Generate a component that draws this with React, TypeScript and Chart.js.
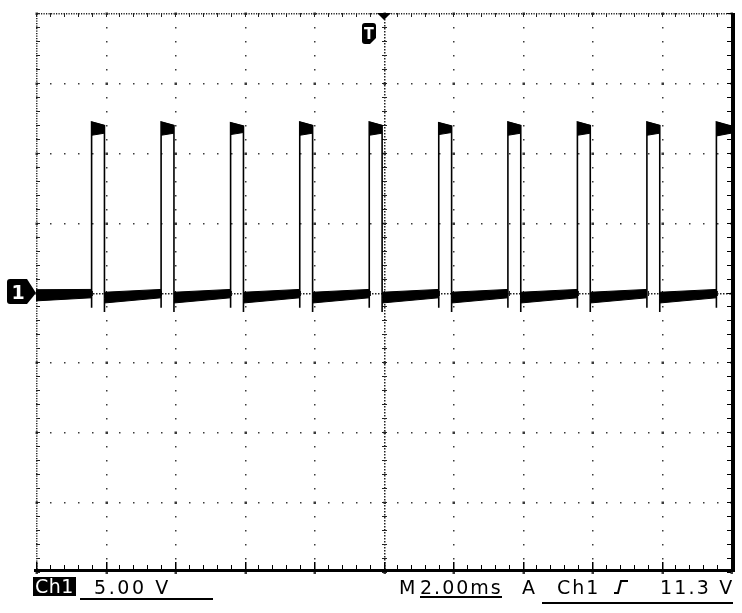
import React, { useEffect, useRef } from "react";
import { Chart, registerables } from "chart.js";

Chart.register(...registerables);

// Scope settings: 2.00 ms/div horizontally (10 div), 5.00 V/div vertically (8 div)
const timeRangeMs = [0, 20];
const voltRange = [-20, 20];
const timeMajorTicks = [0, 2, 4, 6, 8, 10, 12, 14, 16, 18, 20];
const voltMajorTicks = [-20, -15, -10, -5, 0, 5, 10, 15, 20];
const minorPerDiv = 5;
const triggerTimeMs = 10;

// Pulse edges (ms)
const riseTimes = [1.6, 3.6, 5.6, 7.59, 9.59, 11.59, 13.58, 15.58, 17.58, 19.58];
const fallTimes = [1.97, 3.97, 5.97, 7.96, 9.96, 11.96, 13.95, 15.95, 17.95];

// High plateau: top / bottom of the noisy band (V) at start and end of each pulse
const highTopStart = [12.2, 12.2, 12.15, 12.2, 12.2, 12.15, 12.2, 12.2, 12.2, 12.2];
const highTopEnd = [11.95, 11.95, 11.9, 11.95, 11.95, 11.9, 11.95, 11.95, 11.95, 11.9];
const highBotStart = [11.25, 11.25, 11.3, 11.25, 11.25, 11.3, 11.25, 11.25, 11.25, 11.2];
const highBotEnd = [11.4, 11.4, 11.45, 11.4, 11.4, 11.45, 11.4, 11.4, 11.4, 11.4];

// Low level: noisy band (V) for each segment ending at a rising edge
const lowTopStart = [0.2, 0.02, 0.02, 0.02, 0.02, 0.02, 0.02, 0.02, 0.02, 0.02];
const lowBotStart = [-0.6, -0.75, -0.75, -0.75, -0.75, -0.75, -0.75, -0.75, -0.75, -0.75];
const lowTopEnd = [0.22, 0.22, 0.22, 0.22, 0.22, 0.22, 0.22, 0.22, 0.22, 0.22];
const lowBotEnd = [-0.38, -0.38, -0.38, -0.38, -0.38, -0.38, -0.38, -0.38, -0.38, -0.38];

// Ringing spikes below the baseline at each edge (V)
const riseDip = [-1.1, -1.1, -1.1, -1.1, -1.1, -1.1, -1.1, -1.1, -1.1, -1.1];
const fallDip = [-1.4, -1.4, -1.4, -1.4, -1.4, -1.4, -1.4, -1.4, -1.4];

function bandPair(x0: number, x1: number, t0: number, t1: number, b0: number, b1: number) {
  const common = {
    borderColor: "#000",
    borderWidth: 1,
    pointRadius: 0,
    tension: 0,
    backgroundColor: "#000",
  };
  return [
    { ...common, data: [{ x: x0, y: t0 }, { x: x1, y: t1 }], fill: "+1" },
    { ...common, data: [{ x: x0, y: b0 }, { x: x1, y: b1 }], fill: false },
  ];
}

function buildDatasets() {
  const sets: any[] = [];
  riseTimes.forEach((r, i) => {
    const x0 = i === 0 ? timeRangeMs[0] : fallTimes[i - 1];
    sets.push(...bandPair(x0, r, lowTopStart[i], lowTopEnd[i], lowBotStart[i], lowBotEnd[i]));
  });
  riseTimes.forEach((r, i) => {
    const f = i < fallTimes.length ? fallTimes[i] : timeRangeMs[1];
    sets.push(...bandPair(r, f, highTopStart[i], highTopEnd[i], highBotStart[i], highBotEnd[i]));
  });
  const edge: { x: number; y: number }[] = [];
  edge.push({ x: timeRangeMs[0], y: (lowTopStart[0] + lowBotStart[0]) / 2 });
  riseTimes.forEach((r, i) => {
    const f = i < fallTimes.length ? fallTimes[i] : timeRangeMs[1];
    edge.push({ x: r, y: (lowTopEnd[i] + lowBotEnd[i]) / 2 });
    edge.push({ x: r, y: riseDip[i] });
    edge.push({ x: r, y: highTopStart[i] });
    edge.push({ x: f, y: highTopEnd[i] });
    if (i < fallTimes.length) {
      edge.push({ x: f, y: fallDip[i] });
      edge.push({ x: f, y: (lowTopStart[i + 1] + lowBotStart[i + 1]) / 2 });
    }
  });
  sets.push({
    data: edge,
    fill: false,
    borderColor: "#000",
    borderWidth: 1.6,
    pointRadius: 0,
    tension: 0,
  });
  return sets;
}

function minorValues(majors: number[]) {
  const out: number[] = [];
  for (let i = 0; i < majors.length - 1; i++) {
    const step = (majors[i + 1] - majors[i]) / minorPerDiv;
    for (let k = 0; k < minorPerDiv; k++) out.push(majors[i] + k * step);
  }
  out.push(majors[majors.length - 1]);
  return out;
}

const graticulePlugin = {
  id: "graticule",
  beforeDatasetsDraw(chart: any) {
    const { ctx, chartArea: a } = chart;
    const xs = chart.scales.x;
    const ys = chart.scales.y;
    const X = (v: number) => Math.round(xs.getPixelForValue(v));
    const Y = (v: number) => Math.round(ys.getPixelForValue(v));
    const xMinor = minorValues(timeMajorTicks);
    const yMinor = minorValues(voltMajorTicks);
    const cx = X(triggerTimeMs);
    const cy = Y(0);
    ctx.save();
    ctx.fillStyle = "#3a3a3a";
    timeMajorTicks.forEach((t, i) => {
      if (i === 0 || i === timeMajorTicks.length - 1 || t === triggerTimeMs) return;
      yMinor.forEach((v) => ctx.fillRect(X(t), Y(v), 1.5, 1.5));
    });
    voltMajorTicks.forEach((v, i) => {
      if (i === 0 || i === voltMajorTicks.length - 1 || v === 0) return;
      xMinor.forEach((t) => ctx.fillRect(X(t), Y(v), 1.5, 1.5));
    });
    timeMajorTicks.forEach((t) =>
      voltMajorTicks.forEach((v) => ctx.fillRect(X(t) - 0.5, Y(v) - 0.5, 2.5, 2.5))
    );
    ctx.fillStyle = "#222";
    for (let p = a.top; p <= a.bottom; p += 3) ctx.fillRect(cx, p, 1.5, 1.5);
    yMinor.forEach((v) => ctx.fillRect(cx - 2, Y(v), 5, 1));
    for (let p = a.left; p <= a.right; p += 3) ctx.fillRect(p, cy, 1.5, 1.5);
    xMinor.forEach((t) => ctx.fillRect(X(t), cy - 2, 1, 5));
    for (let p = a.left; p <= a.right; p += 2.5) ctx.fillRect(p, a.top, 1.2, 1.5);
    xMinor.forEach((t) => ctx.fillRect(X(t), a.top, 1, 4));
    for (let p = a.top; p <= a.bottom; p += 2.5) ctx.fillRect(a.left, p, 1.5, 1.2);
    yMinor.forEach((v) => ctx.fillRect(a.left, Y(v), 4, 1));
    ctx.restore();
  },
  afterDatasetsDraw(chart: any) {
    const { ctx, chartArea: a } = chart;
    const xs = chart.scales.x;
    const ys = chart.scales.y;
    const X = (v: number) => Math.round(xs.getPixelForValue(v));
    const Y = (v: number) => Math.round(ys.getPixelForValue(v));
    const xMinor = minorValues(timeMajorTicks);
    const yMinor = minorValues(voltMajorTicks);
    ctx.save();
    ctx.fillStyle = "#000";
    ctx.fillRect(a.left - 2, a.bottom - 3, a.right + 4 - (a.left - 2), 3);
    xMinor.forEach((t) => ctx.fillRect(X(t), a.bottom - 7, 1, 4));
    timeMajorTicks.forEach((t) => ctx.fillRect(X(t), a.bottom - 10, 1.5, 7));
    ctx.fillRect(a.right, a.top, 4, a.bottom - a.top);
    yMinor.forEach((v) => ctx.fillRect(a.right - 4, Y(v), 4, 1));

    // trigger position triangle
    const px = X(triggerTimeMs);
    ctx.beginPath();
    ctx.moveTo(px - 7, a.top);
    ctx.lineTo(px + 7, a.top);
    ctx.lineTo(px, a.top + 7);
    ctx.closePath();
    ctx.fill();
    // T shield
    const l = px - 22, t = a.top + 10, w = 14, h = 21;
    ctx.beginPath();
    ctx.moveTo(l + 3, t);
    ctx.lineTo(l + w - 3, t);
    ctx.quadraticCurveTo(l + w, t, l + w, t + 3);
    ctx.lineTo(l + w, h + t - 6);
    ctx.lineTo(l + w - 6, t + h);
    ctx.lineTo(l + 3, t + h);
    ctx.quadraticCurveTo(l, t + h, l, t + h - 3);
    ctx.lineTo(l, t + 3);
    ctx.quadraticCurveTo(l, t, l + 3, t);
    ctx.closePath();
    ctx.fill();
    ctx.fillStyle = "#fff";
    ctx.font = 'bold 16px "DejaVu Sans Condensed", "DejaVu Sans", sans-serif';
    ctx.textAlign = "center";
    ctx.textBaseline = "alphabetic";
    ctx.fillText("T", l + w / 2, t + 16);

    // Ch1 ground marker
    const py = Y(0);
    ctx.fillStyle = "#000";
    ctx.beginPath();
    ctx.moveTo(10, py - 14);
    ctx.lineTo(27, py - 14);
    ctx.lineTo(a.left, py);
    ctx.lineTo(27, py + 11);
    ctx.lineTo(10, py + 11);
    ctx.quadraticCurveTo(7, py + 11, 7, py + 8);
    ctx.lineTo(7, py - 11);
    ctx.quadraticCurveTo(7, py - 14, 10, py - 14);
    ctx.closePath();
    ctx.fill();
    ctx.fillStyle = "#fff";
    ctx.font = 'bold 19px "DejaVu Sans", sans-serif';
    ctx.textAlign = "center";
    ctx.fillText("1", 18, py + 6);
    ctx.restore();
  },
};

const textBase: React.CSSProperties = {
  position: "absolute",
  fontFamily: '"DejaVu Sans", sans-serif',
  fontSize: 19,
  lineHeight: "19px",
  color: "#000",
  whiteSpace: "pre",
  margin: 0,
};

export default function App() {
  const canvasRef = useRef<HTMLCanvasElement | null>(null);

  useEffect(() => {
    const canvas = canvasRef.current;
    if (!canvas) return;
    const chart = new Chart(canvas, {
      type: "line",
      data: { datasets: buildDatasets() },
      options: {
        animation: false,
        responsive: false,
        devicePixelRatio: 1,
        events: [],
        layout: { padding: { left: 36, right: 11, top: 13, bottom: 41 } },
        scales: {
          x: { type: "linear", min: timeRangeMs[0], max: timeRangeMs[1], display: false },
          y: { type: "linear", min: voltRange[0], max: voltRange[1], display: false },
        },
        plugins: { legend: { display: false }, tooltip: { enabled: false } },
      } as any,
      plugins: [graticulePlugin],
    } as any);
    return () => chart.destroy();
  }, []);

  return (
    <div style={{ position: "absolute", left: 0, top: 0, width: 742, height: 613, background: "#fff", overflow: "hidden" }}>
      <canvas ref={canvasRef} width={742} height={613} style={{ position: "absolute", left: 0, top: 0, width: 742, height: 613 }} />
      <div
        style={{
          position: "absolute",
          left: 33,
          top: 577,
          width: 43,
          height: 19,
          background: "#000",
          color: "#fff",
          fontFamily: '"DejaVu Sans", sans-serif',
          fontSize: 19,
          lineHeight: "19px",
          textAlign: "center",
          letterSpacing: 0.5,
        }}
      >
        Ch1
      </div>
      <div style={{ ...textBase, left: 94, top: 578, letterSpacing: 2.6 }}>5.00 V</div>
      <div style={{ position: "absolute", left: 80, top: 598, width: 133, height: 2, background: "#000" }} />
      <div style={{ ...textBase, left: 399, top: 578 }}>M</div>
      <div style={{ ...textBase, left: 420, top: 578, letterSpacing: 2 }}>2.00ms</div>
      <div style={{ position: "absolute", left: 420, top: 596, width: 82, height: 2, background: "#000" }} />
      <div style={{ ...textBase, left: 522, top: 578 }}>A</div>
      <div style={{ ...textBase, left: 557, top: 578, letterSpacing: 2 }}>Ch1</div>
      <svg style={{ position: "absolute", left: 612, top: 580, width: 18, height: 14 }} width={18} height={14}>
        <polyline points="2,13 6,13 9,1 16,1" fill="none" stroke="#000" strokeWidth={2} />
      </svg>
      <div style={{ ...textBase, left: 660, top: 578, letterSpacing: 2.2 }}>11.3 V</div>
      <div style={{ position: "absolute", left: 542, top: 602, width: 191, height: 1.5, background: "#000" }} />
    </div>
  );
}
